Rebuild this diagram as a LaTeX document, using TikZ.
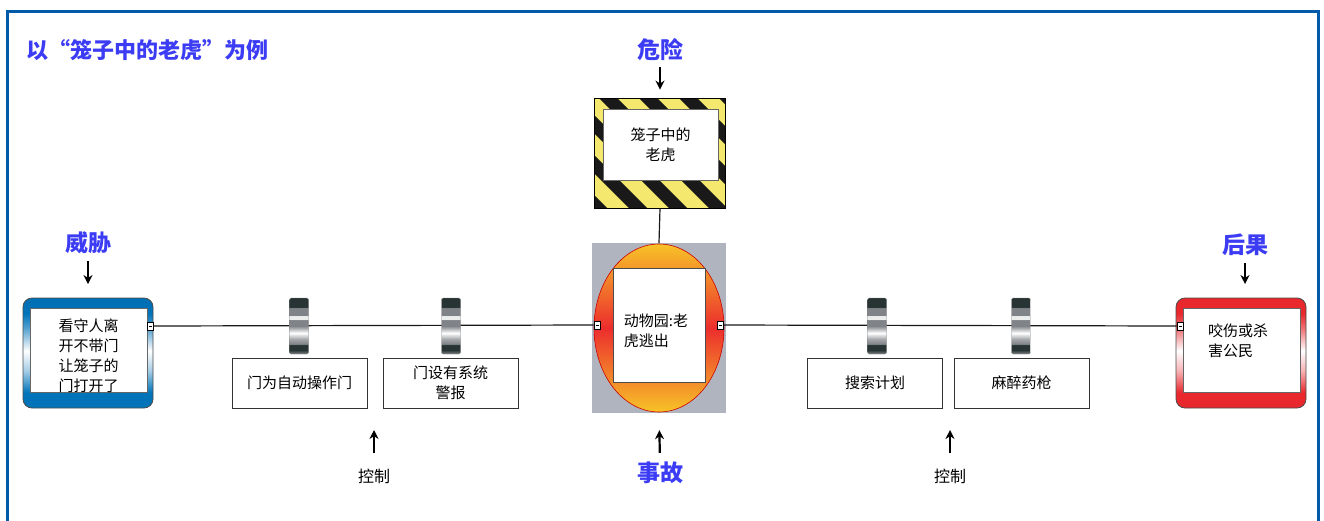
\documentclass[tikz,border=0pt]{standalone}
\usepackage{fontspec}
\setmainfont{Noto Sans CJK SC}
\usetikzlibrary{arrows.meta}
\definecolor{frameblue}{RGB}{0,90,170}
\definecolor{labelblue}{RGB}{60,60,245}
\definecolor{threatblue}{RGB}{0,115,185}
\definecolor{conred}{RGB}{232,40,45}
\definecolor{stripeyellow}{RGB}{245,232,110}
\definecolor{evgray}{RGB}{175,180,190}
\definecolor{evyellow}{RGB}{247,195,40}
\definecolor{evred}{RGB}{236,45,45}
\definecolor{bdark}{RGB}{40,52,52}
\definecolor{bgray}{RGB}{128,132,136}
% path spans 25bp..75bp of a 100bp shading
\pgfdeclareverticalshading{barrel}{100bp}{%
  color(0bp)=(bgray); color(25bp)=(bgray); color(28.5bp)=(bdark); color(33bp)=(bdark);
  color(34bp)=(bgray); color(38.4bp)=(bgray!70!white); color(43.7bp)=(white);
  color(50bp)=(bgray); color(55.3bp)=(bgray); color(56.2bp)=(white!85!bgray);
  color(58.9bp)=(white!85!bgray); color(59.8bp)=(bgray); color(66bp)=(bgray);
  color(67bp)=(bdark); color(100bp)=(bdark)}
\pgfdeclareverticalshading{thshade}{100bp}{%
  color(0bp)=(threatblue); color(32bp)=(threatblue); color(42bp)=(threatblue!35!white);
  color(51bp)=(white); color(61bp)=(threatblue!65!white); color(68bp)=(threatblue);
  color(100bp)=(threatblue!85!black)}
\pgfdeclareverticalshading{coshade}{100bp}{%
  color(0bp)=(conred); color(32bp)=(conred); color(42bp)=(conred!35!white);
  color(51bp)=(white); color(61bp)=(conred!65!white); color(68bp)=(conred);
  color(100bp)=(conred)}
\tikzset{
  boxtext/.style={font=\fontsize{15}{20}\selectfont, align=center, text=black},
  ctrlbox/.style={draw=black!80, line width=0.8pt, fill=white, minimum width=135pt, minimum height=50pt, inner sep=0pt, boxtext},
  innerbox/.style={draw=black!60, line width=0.8pt, fill=white, inner sep=0pt},
  biglabel/.style={font=\fontsize{23}{26}\bfseries\selectfont, text=labelblue, inner sep=0pt},
  smalllabel/.style={font=\fontsize{16}{18}\selectfont, text=black, inner sep=0pt},
  arr/.style={line width=2.2pt, -{Stealth[length=9pt,width=9pt]}},
  wire/.style={line width=1.2pt, draw=black!90},
  port/.style={draw=black, fill=white, line width=0.6pt, minimum width=6pt, minimum height=8pt, inner sep=0pt,
     path picture={\draw[line width=0.6pt] ([xshift=-1.5pt]path picture bounding box.center) -- ([xshift=1.5pt]path picture bounding box.center);}},
  barrier/.style={shading=barrel, draw=black!50, line width=0.4pt, rounded corners=1.5pt, minimum width=19pt, minimum height=56pt, inner sep=0pt},
  endbox/.style={draw=black!70, line width=0.8pt, rounded corners=9pt, minimum width=130pt, minimum height=110pt, inner sep=0pt},
}
\begin{document}
\begin{tikzpicture}[x=1pt,y=-1pt]
\useasboundingbox (0,0) rectangle (1324,520);
\fill[white] (0,0) rectangle (1324,520);
% outer frame
\draw[frameblue, line width=3pt] (7.5,11.5) rectangle (1318,540);
% title
\node[font=\fontsize{22}{25}\bfseries\selectfont, text=labelblue, anchor=west, inner sep=0pt] (title) at (26,50) {以“笼子中的老虎”为例};

% ---- hazard ----
\node[draw=black, line width=0.8pt, minimum width=130pt, minimum height=109pt, inner sep=0pt] (hazard) at (660,153.5) {};
\begin{scope}
  \clip (hazard.north west) rectangle (hazard.south east);
  \fill[stripeyellow] (hazard.north west) rectangle (hazard.south east);
  \foreach \i in {-4,...,5} {
    \draw[black!90, line width=13pt] (560+\i*40,90) -- (690+\i*40,220);
  }
\end{scope}
\draw[black, line width=0.8pt] (hazard.north west) rectangle (hazard.south east);
\node[innerbox, minimum width=115pt, minimum height=71pt, boxtext] (hazin) at (660.5,144.5) {笼子中的\\老虎};
\node[biglabel] (hzlab) at (660,50) {危险};
\draw[arr, shorten <=6pt, shorten >=9pt] (hzlab.south) -- (hazard.north);

% ---- top event ----
\node[fill=evgray, minimum width=134pt, minimum height=170pt, inner sep=0pt] (event) at (659,328) {};
\draw[wire] (hazard.south) -- (event.north);
\shade[top color=evyellow, bottom color=evyellow, middle color=evred, draw=red!80!black, line width=0.6pt] (659,328) ellipse [x radius=65pt, y radius=84pt];
\node[innerbox, draw=black!70, minimum width=92pt, minimum height=114pt] (evin) at (659,325) {};
\node[boxtext, align=left, inner sep=0pt] (evtext) at (656,331) {动物园:老\\虎逃出};
\node[port] (el) at (597,325) {};
\node[port] (er) at (720,325) {};
\node[biglabel] (evlab) at (660,473) {事故};
\draw[arr, shorten <=9pt, shorten >=17pt] (evlab.north) -- (event.south);

% ---- threat ----
\node[endbox, shading=thshade] (threatbox) at (88,353) {};
\node[innerbox, minimum width=117pt, minimum height=84pt] (threat) at (88.5,350) {};
\node[boxtext] (thtext) at (88.5,356) {看守人离\\开不带门\\让笼子的\\门打开了};
\node[port] (tl) at (150,326) {};
\node[biglabel] (thlab) at (88,243) {威胁};
\coordinate (thtip) at (88,284);
\draw[arr, shorten <=7pt] (thlab.south) -- (thtip);

% ---- consequence ----
\node[endbox, shading=coshade] (conbox) at (1241,353) {};
\node[innerbox, minimum width=117pt, minimum height=84pt] (conseq) at (1241.5,350) {};
\node[boxtext, align=left, inner sep=0pt] (cotext) at (1238,341) {咬伤或杀\\害公民};
\node[port] (cl) at (1180,326) {};
\node[biglabel] (colab) at (1245,245) {后果};
\coordinate (cotip) at (1245,284);
\draw[arr, shorten <=7pt] (colab.south) -- (cotip);

% ---- wires ----
\draw[wire] (tl.east) -- (el.west);
\draw[wire] (er.east) -- (cl.west);

% ---- barriers ----
\node[barrier] (b1) at (299,326) {};
\node[barrier] (b2) at (451,326) {};
\node[barrier] (b3) at (877,326) {};
\node[barrier] (b4) at (1021,326) {};

% ---- control boxes ----
\node[ctrlbox] (c1) at (299.5,383) {门为自动操作门};
\node[ctrlbox] (c2) at (450.5,383) {门设有系统\\警报};
\node[ctrlbox] (c3) at (875,383) {搜索计划};
\node[ctrlbox] (c4) at (1021.5,383) {麻醉药枪};

% ---- control labels ----
\node[smalllabel] (k1) at (374,476) {控制};
\coordinate (k1tip) at (374,430);
\draw[arr, shorten <=15pt] (k1.north) -- (k1tip);
\node[smalllabel] (k2) at (950,476) {控制};
\coordinate (k2tip) at (950,430);
\draw[arr, shorten <=15pt] (k2.north) -- (k2tip);
\end{tikzpicture}
\end{document}
